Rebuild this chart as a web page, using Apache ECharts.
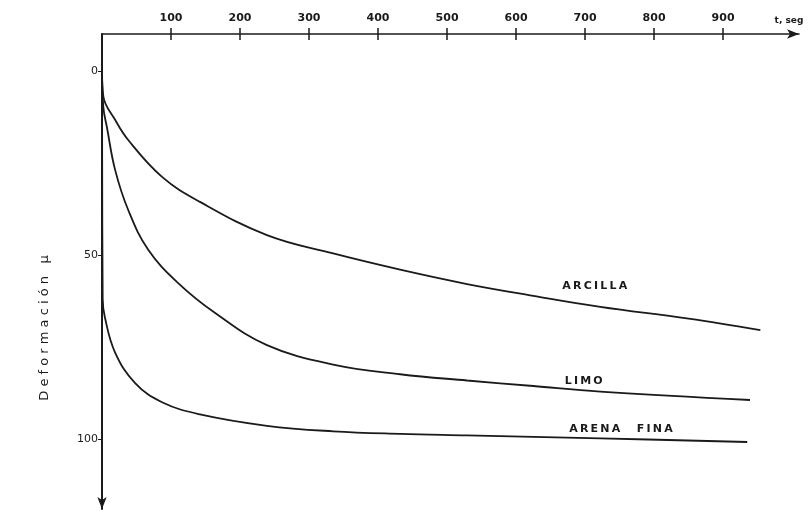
<!DOCTYPE html>
<html><head><meta charset="utf-8">
<script src="https://cdn.jsdelivr.net/npm/echarts@6/dist/echarts.min.js"></script>
<style>html,body{margin:0;padding:0;background:#fff}#c{width:810px;height:522px}</style>
</head><body><div id="c"></div>
<script>
// Data (t in seconds, deformation in microns)
const arcilla = [[0,0],[2,7],[19,13.3],[38,18.8],[87,28.8],[142,35.6],[239,44.6],[335,49.6],[432,54.0],[529,57.9],[625,61.1],[722,64.1],[850,67.3],[954,70.4]];
const limo = [[0,0],[2,10],[7,15.2],[19,26.9],[38,37.8],[67,48.6],[110,57.6],[164,65.8],[239,74.5],[335,79.8],[432,82.4],[529,84.1],[625,85.6],[722,87.1],[939,89.4]];
const arenaFina = [[0,0],[1,62],[4,66.8],[19,76.5],[48,84.8],[87,90.0],[142,93.3],[239,96.4],[335,97.9],[432,98.6],[529,99.0],[625,99.4],[722,99.8],[935,100.8]];
const xTicks = [100,200,300,400,500,600,700,800,900];
const yTicks = [0,50,100];
const seriesNames = ['ARCILLA','LIMO','ARENA FINA'];
const labelAt = [[714,58.4],[698,84.2],[752,97.3]];

const chart = echarts.init(document.getElementById('c'));
const ink = '#1a1a1a';
const lblFont = {fontFamily:'DejaVu Sans', fontWeight:'bold', fontSize:11, color:ink};
function spaced(s){ return s.split(' ').map(w=>w.split('').join('\u2009')).join('\u2003\u2002'); }
function mk(name, data, i){
  return {
    type:'line', name, data, showSymbol:false, smooth:0.4,
    lineStyle:{color:ink, width:1.8}, silent:true,
    markPoint:{symbol:'circle', symbolSize:1, silent:true, itemStyle:{color:'rgba(0,0,0,0)'},
      label:{show:true, position:'inside', formatter:spaced(name), ...lblFont, fontSize:11},
      data:[{coord:labelAt[i]}]}
  };
}
chart.setOption({
  backgroundColor:'#fff',
  animation:false,
  grid:{left:102, top:34, width:697, height:475},
  xAxis:[{
    type:'value', position:'top', min:0, max:1010,
    axisLine:{show:true, onZero:false, lineStyle:{color:ink, width:1.5}, symbol:['none','arrow'], symbolSize:[7,12]},
    axisTick:{show:true, length:6, customValues:xTicks, lineStyle:{color:ink, width:1.5}},
    axisLabel:{show:true, customValues:xTicks, margin:10, ...lblFont},
    splitLine:{show:false}
  },{
    type:'value', position:'top', min:0, max:1010,
    axisLine:{show:false, onZero:false},
    axisTick:{show:true, inside:true, length:6, customValues:xTicks, lineStyle:{color:ink, width:1.5}},
    axisLabel:{show:false}, splitLine:{show:false}
  }],
  yAxis:{
    type:'value', inverse:true, min:-10, max:119,
    axisLine:{show:true, onZero:false, lineStyle:{color:ink, width:2}, symbol:['arrow','none'], symbolSize:[7,12]},
    axisTick:{show:true, length:4, customValues:yTicks, lineStyle:{color:ink}},
    axisLabel:{show:true, customValues:yTicks, margin:4, fontFamily:'DejaVu Sans', fontSize:11, color:ink},
    splitLine:{show:false}
  },
  graphic:[{
    type:'text', x:45, y:328, rotation:Math.PI/2,
    style:{text:'D e f o r m a c i ó n   \u03bc', fontFamily:'DejaVu Sans', fontSize:13, fill:ink, align:'center', verticalAlign:'middle'}
  },{
    type:'text', x:789, y:21,
    style:{text:'t, seg', fontFamily:'DejaVu Sans', fontWeight:'bold', fontSize:9, fill:ink, align:'center', verticalAlign:'middle'}
  }],
  series:[mk(seriesNames[0], arcilla, 0), mk(seriesNames[1], limo, 1), mk(seriesNames[2], arenaFina, 2)]
});
</script></body></html>
